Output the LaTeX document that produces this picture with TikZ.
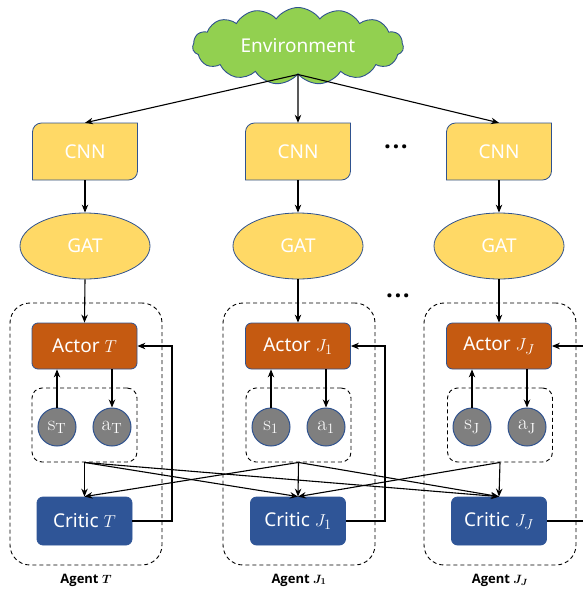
\documentclass[tikz,border=0pt]{standalone}
\usepackage{fontspec}
\usepackage{amsmath,bm}
\newfontfamily\labfont{Noto Sans}
\newfontfamily\agfont{Open Sans}
\usetikzlibrary{shapes.symbols,shapes.geometric,arrows.meta,calc}
\definecolor{envgreen}{HTML}{92D050}
\definecolor{edgeblue}{HTML}{2F528F}
\definecolor{boxyellow}{HTML}{FFD966}
\definecolor{actororange}{HTML}{C55A11}
\definecolor{criticblue}{HTML}{2F5597}
\definecolor{stategray}{HTML}{7F7F7F}
\begin{document}
\begin{tikzpicture}[x=1pt,y=-1pt,
  lbl/.style={text=white,font=\labfont\fontsize{19}{22}\selectfont},
  envnode/.style={cloud,cloud puffs=15,cloud puff arc=110,cloud ignores aspect,draw=edgeblue,fill=envgreen,line width=0.9pt,minimum width=211pt,minimum height=77pt,inner sep=0pt,lbl},
  cnnshape/.style={fill=boxyellow,draw=edgeblue,line width=0.8pt},
  cnnnode/.style={minimum width=105pt,minimum height=57pt,inner sep=0pt,lbl},
  gatnode/.style={ellipse,draw=edgeblue,fill=boxyellow,line width=0.8pt,minimum width=130pt,minimum height=66pt,inner sep=0pt,lbl},
  actornode/.style={rectangle,rounded corners=6pt,draw=edgeblue,fill=actororange,line width=0.8pt,minimum width=105pt,minimum height=46pt,inner sep=0pt,lbl},
  criticnode/.style={rectangle,rounded corners=6pt,draw=criticblue,fill=criticblue,line width=0.8pt,minimum width=95pt,minimum height=48pt,inner sep=0pt,lbl},
  statenode/.style={circle,draw=edgeblue,fill=stategray,line width=1pt,minimum size=38pt,inner sep=0pt,text=white,font=\fontsize{21}{22}\selectfont},
  agentbox/.style={draw,dashed,dash pattern=on 4pt off 3pt,rounded corners=20pt,line width=0.9pt,minimum width=152pt,minimum height=262pt,inner sep=0pt},
  innerbox/.style={draw,dashed,dash pattern=on 4pt off 3pt,rounded corners=10pt,line width=0.9pt,minimum width=105pt,minimum height=74pt,inner sep=0pt},
  agentlbl/.style={font=\agfont\bfseries\fontsize{13}{15}\selectfont},
  dotsnode/.style={font=\agfont\bfseries\fontsize{24}{24}\selectfont,inner sep=0pt},
  arr/.style={-{Stealth[length=8pt,width=6.5pt]},line width=1.1pt},
  fbline/.style={-{Stealth[length=8pt,width=6.5pt]},line width=1.1pt}
]
\useasboundingbox (0,0) rectangle (583,592);

% environment
\node[envnode] (env) at (298,46) {Environment};

% CNN shapes
\foreach \cx in {85,298,499}{
  \path[cnnshape] (\cx-52.5,123+9) arc[start angle=180,end angle=270,radius=9]
     -- (\cx+52.5,123) -- (\cx+52.5,180-9) arc[start angle=0,end angle=90,radius=9]
     -- (\cx-52.5,180) -- cycle;
}
\node[cnnnode] (cnn1) at (85,151.5) {CNN};
\node[cnnnode] (cnn2) at (298,151.5) {CNN};
\node[cnnnode] (cnn3) at (499,151.5) {CNN};
\node[dotsnode] (dotsA) at (396,147) {.\hspace{1.5pt}.\hspace{1.5pt}.};

% GAT
\node[gatnode] (gat1) at (85,246) {GAT};
\node[gatnode] (gat2) at (298,246) {GAT};
\node[gatnode] (gat3) at (499,246) {GAT};
\node[dotsnode] (dotsB) at (398,296) {.\hspace{1.5pt}.\hspace{1.5pt}.};

% agent boxes
\node[agentbox] (ag1) at (86,434) {};
\node[agentbox] (ag2) at (299,434) {};
\node[agentbox] (ag3) at (500,434) {};
\node[agentlbl] (agl1) at (86,580) {Agent $\bm{T}$};
\node[agentlbl] (agl2) at (299,580) {Agent $\bm{J_1}$};
\node[agentlbl] (agl3) at (500,580) {Agent $\bm{J_J}$};

% actors
\node[actornode] (ac1) at (84.5,346) {Actor $T$};
\node[actornode] (ac2) at (298,346) {Actor $J_1$};
\node[actornode] (ac3) at (499,346) {Actor $J_J$};

% inner boxes
\node[innerbox] (ib1) at (84.5,425) {};
\node[innerbox] (ib2) at (298.5,425) {};
\node[innerbox] (ib3) at (500,425) {};

% states / actions
\node[statenode] (s1) at (57,427) {$\mathrm{s}_{\mathrm{T}}$};
\node[statenode] (a1) at (112,427) {$\mathrm{a}_{\mathrm{T}}$};
\node[statenode] (s2) at (271,427) {$\mathrm{s}_{1}$};
\node[statenode] (a2) at (326,427) {$\mathrm{a}_{1}$};
\node[statenode] (s3) at (472,427) {$\mathrm{s}_{\mathrm{J}}$};
\node[statenode] (a3) at (527,427) {$\mathrm{a}_{\mathrm{J}}$};

% critics
\node[criticnode] (cr1) at (84.5,521) {Critic $T$};
\node[criticnode] (cr2) at (298,521) {Critic $J_1$};
\node[criticnode] (cr3) at (499,521) {Critic $J_J$};

% env -> cnn
\draw[arr] (env.south) -- (cnn1.north);
\draw[arr] (env.south) -- (cnn2.north);
\draw[arr] (env.south) -- (cnn3.north);
% cnn -> gat -> actor
\foreach \i in {1,2,3}{
  \draw[arr] (cnn\i.south) -- (gat\i.north);
  \draw[arr] (gat\i.south) -- (ac\i.north);
  \draw[arr] (s\i.north) -- (s\i.north |- ac\i.south);
  \draw[arr] (a\i.north |- ac\i.south) -- (a\i.north);
}
% cross arrows to critics
\draw[arr] (ib1.south) -- (cr1.north);
\draw[arr] (ib1.south) -- (cr2.north);
\draw[arr] (ib1.south) -- (cr3.north);
\draw[arr] (ib2.south) -- (cr1.north);
\draw[arr] (ib2.south) -- (cr2.north);
\draw[arr] (ib2.south) -- (cr3.north);
\draw[arr] (ib3.south) -- (cr2.north);
\draw[arr] (ib3.south) -- (cr3.north);

% feedback critic -> actor
\coordinate (fb1) at (172,521);
\coordinate (fb2) at (385,521);
\coordinate (fb3) at (592,521);
\draw[fbline] (cr1.east) -- (fb1) |- (ac1.east);
\draw[fbline] (cr2.east) -- (fb2) |- (ac2.east);
\draw[fbline] (cr3.east) -- (fb3) |- (ac3.east);
\end{tikzpicture}
\end{document}
